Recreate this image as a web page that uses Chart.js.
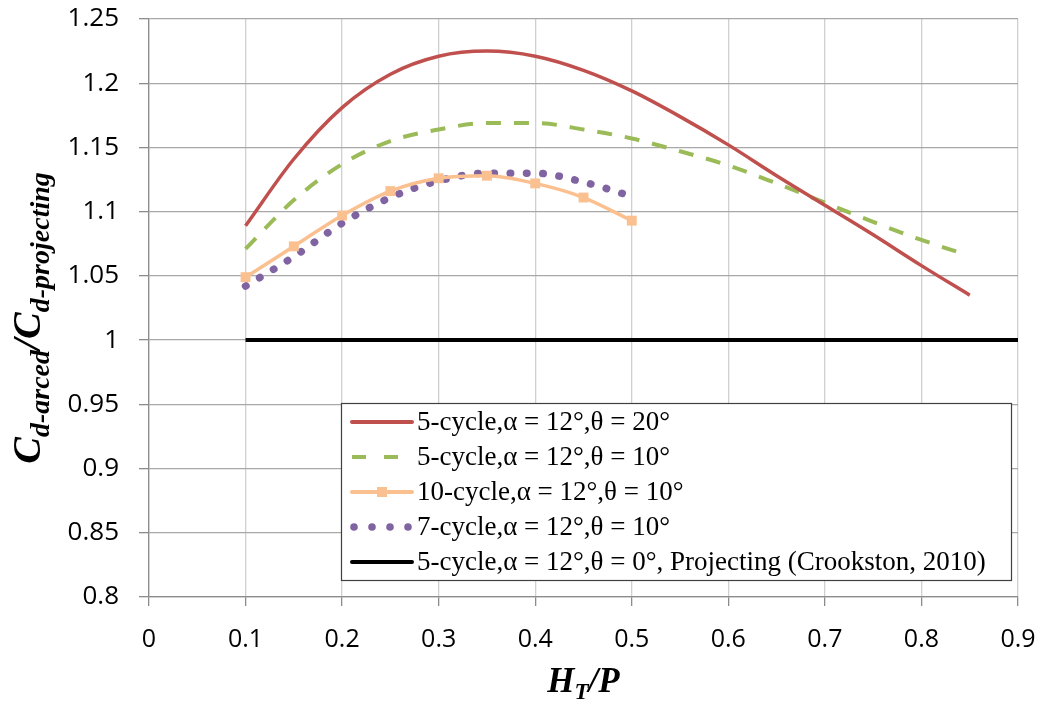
<!DOCTYPE html>
<html>
<head>
<meta charset="utf-8">
<script src="https://cdn.jsdelivr.net/npm/chart.js@4.4.1/dist/chart.umd.min.js"></script>
<style>
  body { margin: 0; background: #fff; }
  #wrap { width: 1044px; height: 705px; }
</style>
</head>
<body>
<div id="wrap"><canvas id="chart"></canvas></div>
<script>
// H_T/P values and C_d-arced / C_d-projecting ratios
const xTickValues = [0, 0.1, 0.2, 0.3, 0.4, 0.5, 0.6, 0.7, 0.8, 0.9];
const yTickValues = [0.8, 0.85, 0.9, 0.95, 1, 1.05, 1.1, 1.15, 1.2, 1.25];

const htp5cyc20 = [0.1, 0.15, 0.2, 0.25, 0.3, 0.35, 0.4, 0.45, 0.5, 0.55, 0.6, 0.65, 0.7, 0.75, 0.8, 0.85];
const ratio5cyc20 = [1.089, 1.141, 1.181, 1.207, 1.221, 1.225, 1.221, 1.210, 1.194, 1.174, 1.152, 1.128, 1.105, 1.082, 1.058, 1.035];

const htp5cyc10 = [0.1, 0.15, 0.2, 0.25, 0.3, 0.35, 0.4, 0.45, 0.5, 0.55, 0.6, 0.65, 0.7, 0.75, 0.8, 0.84];
const ratio5cyc10 = [1.071, 1.109, 1.137, 1.155, 1.164, 1.169, 1.169, 1.164, 1.157, 1.147, 1.136, 1.122, 1.107, 1.092, 1.078, 1.068];

const htp10cyc10 = [0.1, 0.15, 0.2, 0.25, 0.3, 0.35, 0.4, 0.45, 0.5];
const ratio10cyc10 = [1.049, 1.073, 1.097, 1.116, 1.126, 1.128, 1.122, 1.111, 1.093];

const htp7cyc10 = [0.1, 0.15, 0.2, 0.25, 0.3, 0.35, 0.4, 0.45, 0.5];
const ratio7cyc10 = [1.042, 1.065, 1.091, 1.111, 1.124, 1.130, 1.130, 1.123, 1.112];

const htpProjecting = [0.1, 0.9];
const ratioProjecting = [1, 1];

const seriesLabels = [
  "5-cycle,\u03b1 = 12\u00b0,\u03b8 = 20\u00b0",
  "5-cycle,\u03b1 = 12\u00b0,\u03b8 = 10\u00b0",
  "10-cycle,\u03b1 = 12\u00b0,\u03b8 = 10\u00b0",
  "7-cycle,\u03b1 = 12\u00b0,\u03b8 = 10\u00b0",
  "5-cycle,\u03b1 = 12\u00b0,\u03b8 = 0\u00b0, Projecting (Crookston, 2010)"
];

const toPoints = (xs, ys) => xs.map((x, i) => ({ x: x, y: ys[i] }));

const SERIF = "'Liberation Serif', 'Times New Roman', serif";
const SANS = "'Open Sans', 'DejaVu Sans', sans-serif";

// draws text made of parts with sub-scripts, centred at (cx, baseline)
function drawRich(ctx, parts, cx, baseY, vertical) {
  ctx.save();
  let total = 0;
  parts.forEach((p) => {
    ctx.font = "italic bold " + p.size + "px " + SERIF;
    p.w = ctx.measureText(p.t).width;
    total += p.w;
  });
  if (vertical) {
    ctx.translate(baseY, cx);
    ctx.rotate(-Math.PI / 2);
  } else {
    ctx.translate(cx, baseY);
  }
  ctx.fillStyle = "#000";
  ctx.textBaseline = "alphabetic";
  ctx.textAlign = "left";
  let x = -total / 2;
  parts.forEach((p) => {
    ctx.font = "italic bold " + p.size + "px " + SERIF;
    ctx.fillText(p.t, x, p.dy || 0);
    x += p.w;
  });
  ctx.restore();
}

const overlay = {
  id: "overlay",
  afterDraw(chart) {
    const ctx = chart.ctx;
    const area = chart.chartArea;

    // axis titles
    drawRich(ctx, [
      { t: "H", size: 35 },
      { t: "T", size: 23, dy: 7 },
      { t: "/", size: 35 },
      { t: "P", size: 35 }
    ], (area.left + area.right) / 2, 692, false);

    drawRich(ctx, [
      { t: "C", size: 40 },
      { t: "d-arced", size: 28, dy: 9 },
      { t: "/", size: 40 },
      { t: "C", size: 40 },
      { t: "d-projecting", size: 28, dy: 9 }
    ], 318, 40, true);

    // legend box
    const box = { x: 341, y: 403, w: 670, h: 177 };
    ctx.save();
    ctx.fillStyle = "#fff";
    ctx.fillRect(box.x, box.y, box.w, box.h);
    ctx.strokeStyle = "#404040";
    ctx.lineWidth = 1.2;
    ctx.strokeRect(box.x + 0.5, box.y + 0.5, box.w, box.h);

    chart.data.datasets.forEach((ds, i) => {
      const y = 422 + i * 35;
      const x0 = 352, x1 = 412;
      ctx.strokeStyle = ds.borderColor;
      ctx.fillStyle = ds.borderColor;
      if (ds.legendDots) {
        for (let k = 0; k < 4; k++) {
          ctx.beginPath();
          ctx.arc(354 + k * 18, y, 3.8, 0, Math.PI * 2);
          ctx.fill();
        }
      } else {
        ctx.lineWidth = 4;
        ctx.lineCap = ds.borderDash ? "butt" : "round";
        ctx.setLineDash(ds.borderDash ? [14, 18] : []);
        ctx.beginPath();
        ctx.moveTo(x0, y);
        ctx.lineTo(x1, y);
        ctx.stroke();
        ctx.setLineDash([]);
        if (ds.pointRadius > 0) {
          ctx.fillRect((x0 + x1) / 2 - 5, y - 5, 10, 10);
        }
      }
      ctx.fillStyle = "#000";
      ctx.font = "27px " + SERIF;
      ctx.textBaseline = "middle";
      ctx.fillText(ds.label, 417, y + 1);
    });
    ctx.restore();
  }
};

const noPad = (scale) => {
  scale.paddingTop = 0;
  scale.paddingBottom = 0;
  scale.paddingLeft = 0;
  scale.paddingRight = 0;
};

new Chart(document.getElementById("chart"), {
  type: "line",
  data: {
    datasets: [
      {
        label: seriesLabels[0],
        data: toPoints(htp5cyc20, ratio5cyc20),
        borderColor: "#C0504D",
        borderWidth: 3.5,
        pointRadius: 0,
        cubicInterpolationMode: "monotone"
      },
      {
        label: seriesLabels[1],
        data: toPoints(htp5cyc10, ratio5cyc10),
        borderColor: "#9BBB59",
        borderWidth: 4,
        borderDash: [15, 13],
        pointRadius: 0,
        cubicInterpolationMode: "monotone"
      },
      {
        label: seriesLabels[2],
        data: toPoints(htp10cyc10, ratio10cyc10),
        borderColor: "#FAC090",
        backgroundColor: "#FAC090",
        borderWidth: 3.5,
        pointRadius: 7,
        pointStyle: "rect",
        pointBorderWidth: 0,
        cubicInterpolationMode: "monotone"
      },
      {
        label: seriesLabels[3],
        data: toPoints(htp7cyc10, ratio7cyc10),
        borderColor: "#8064A2",
        borderWidth: 7.5,
        borderDash: [0.5, 15.8],
        borderCapStyle: "round",
        legendDots: true,
        pointRadius: 0,
        cubicInterpolationMode: "monotone"
      },
      {
        label: seriesLabels[4],
        data: toPoints(htpProjecting, ratioProjecting),
        borderColor: "#000000",
        borderWidth: 4,
        pointRadius: 0,
        tension: 0
      }
    ]
  },
  options: {
    responsive: true,
    maintainAspectRatio: false,
    animation: false,
    layout: { padding: { top: 19, right: 26, left: 0, bottom: 0 } },
    plugins: {
      legend: { display: false },
      tooltip: { enabled: false }
    },
    scales: {
      x: {
        type: "linear",
        min: 0,
        max: 0.9,
        afterBuildTicks: (scale) => {
          scale.ticks = xTickValues.map((v) => ({ value: v }));
        },
        afterFit: (scale) => {
          scale.height = 108;
          noPad(scale);
        },
        ticks: {
          font: { family: SANS, size: 25 },
          color: "#000",
          padding: 19,
          maxRotation: 0,
          callback: (v) => String(Number(v.toFixed(2)))
        },
        grid: { color: "#D0D0D0", tickColor: "#8C8C8C", tickLength: 9, lineWidth: 1.3 },
        border: { color: "#8C8C8C", width: 1.3 }
      },
      y: {
        type: "linear",
        min: 0.8,
        max: 1.25,
        afterBuildTicks: (scale) => {
          scale.ticks = yTickValues.map((v) => ({ value: v }));
        },
        afterFit: (scale) => {
          scale.width = 149;
          noPad(scale);
        },
        ticks: {
          font: { family: SANS, size: 26 },
          color: "#000",
          padding: 20,
          callback: (v) => String(Number(v.toFixed(2)))
        },
        grid: { color: "#A8A8A8", tickColor: "#8C8C8C", tickLength: 10, lineWidth: 1.3 },
        border: { color: "#8C8C8C", width: 1.3 }
      }
    }
  },
  plugins: [overlay]
});
</script>
</body>
</html>
